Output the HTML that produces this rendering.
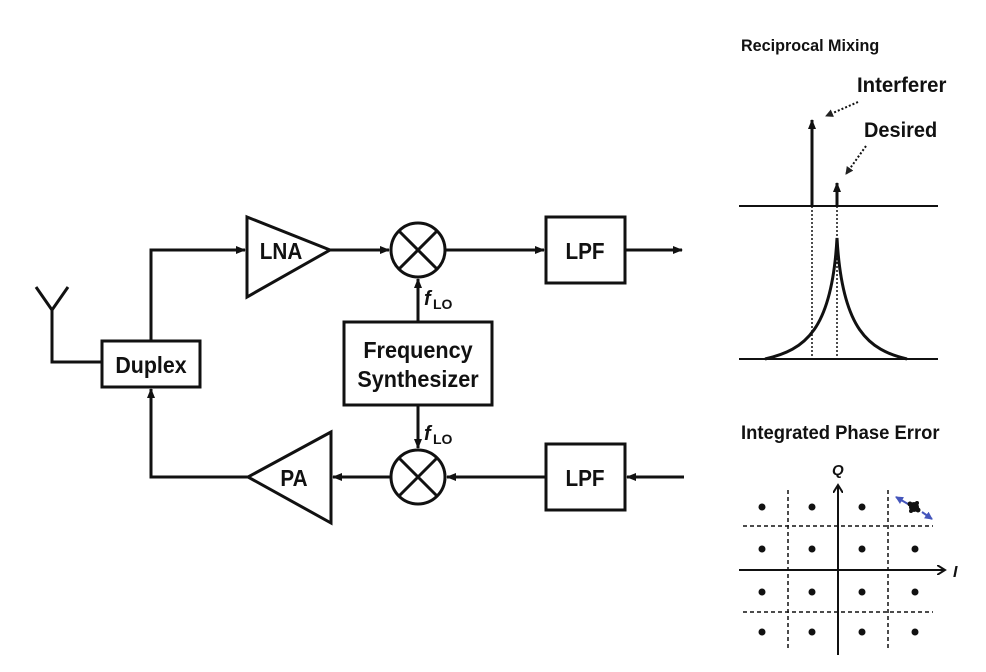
<!DOCTYPE html>
<html><head><style>body{margin:0;background:#fff}svg{display:block}text{font-family:"Liberation Sans",sans-serif;font-weight:bold;fill:#111}</style></head><body>
<svg width="986" height="672" viewBox="0 0 986 672" xmlns="http://www.w3.org/2000/svg">
<defs>
<marker id="a" markerWidth="10" markerHeight="10" refX="9" refY="5" orient="auto" markerUnits="userSpaceOnUse"><path d="M0,1 L10,5 L0,9 z" fill="#111"/></marker>
<marker id="d" markerWidth="8" markerHeight="8" refX="7" refY="4" orient="auto" markerUnits="userSpaceOnUse"><path d="M0,0 L8,4 L0,8 z" fill="#222"/></marker>
<marker id="o" markerWidth="10" markerHeight="10" refX="8" refY="5" orient="auto" markerUnits="userSpaceOnUse"><path d="M0,0 L8,5 L0,10" fill="none" stroke="#111" stroke-width="2"/></marker>
<marker id="b" markerWidth="8" markerHeight="8" refX="7" refY="4" orient="auto" markerUnits="userSpaceOnUse"><path d="M0,0 L8,4 L0,8 z" fill="#4455bb"/></marker>
</defs>
<g stroke="#111" stroke-width="3" fill="none">
<path d="M36,287 L52,310 L68,287 M52,310 L52,362 L102,362"/>
<rect x="102" y="341" width="98" height="46"/>
<path d="M151,341 L151,250 L245,250" marker-end="url(#a)"/>
<path d="M247,217 L330,250 L247,297 Z"/>
<path d="M330,250 L389,250" marker-end="url(#a)"/>
<circle cx="418" cy="250" r="27"/>
<path d="M399,231 L437,269 M437,231 L399,269"/>
<path d="M445,250 L544,250" marker-end="url(#a)"/>
<rect x="546" y="217" width="79" height="66"/>
<path d="M625,250 L682,250" marker-end="url(#a)"/>
<rect x="344" y="322" width="148" height="83"/>
<path d="M418,322 L418,279" marker-end="url(#a)"/>
<path d="M418,405 L418,448" marker-end="url(#a)"/>
<circle cx="418" cy="477" r="27"/>
<path d="M399,458 L437,496 M437,458 L399,496"/>
<rect x="546" y="444" width="79" height="66"/>
<path d="M684,477 L627,477" marker-end="url(#a)"/>
<path d="M546,477 L447,477" marker-end="url(#a)"/>
<path d="M391,477 L333,477" marker-end="url(#a)"/>
<path d="M331,432 L248,477 L331,523 Z"/>
<path d="M248,477 L151,477 L151,389" marker-end="url(#a)"/>
</g>
<g font-size="23" text-anchor="middle">
<text transform="translate(151,373) scale(0.93,1)">Duplex</text>
<text transform="translate(281,259) scale(0.9,1)">LNA</text>
<text transform="translate(294,486) scale(0.9,1)">PA</text>
<text transform="translate(585,259) scale(0.9,1)">LPF</text>
<text transform="translate(585,486) scale(0.9,1)">LPF</text>
<text transform="translate(418,358) scale(0.94,1)">Frequency</text>
<text transform="translate(418,387) scale(0.94,1)">Synthesizer</text>
</g>
<text x="424" y="305" font-size="20" font-style="italic">f</text><text x="433" y="309" font-size="14" font-weight="normal">LO</text>
<text x="424" y="440" font-size="20" font-style="italic">f</text><text x="433" y="444" font-size="14" font-weight="normal">LO</text>

<text transform="translate(741,51) scale(0.95,1)" font-size="17">Reciprocal Mixing</text>
<text transform="translate(857,92) scale(0.97,1)" font-size="21">Interferer</text>
<text transform="translate(864,137) scale(0.95,1)" font-size="21">Desired</text>
<g stroke="#111" fill="none">
<path d="M739,206 L938,206 M739,359 L938,359" stroke-width="2"/>
<path d="M812,206 L812,120" stroke-width="3" marker-end="url(#a)"/>
<path d="M837,206 L837,183" stroke-width="3" marker-end="url(#a)"/>
<path d="M812,206 L812,359 M837,206 L837,359" stroke-width="1.5" stroke-dasharray="2,2"/>
<path d="M858,102 L826,116" stroke-width="2" stroke-dasharray="2,2" marker-end="url(#d)"/>
<path d="M866,146 L846,174" stroke-width="2" stroke-dasharray="2,2" marker-end="url(#d)"/>
<path d="M765,359 C805,350 832,330 837,238 C842,330 869,350 907,359" stroke-width="3"/>
</g>

<text transform="translate(741,439) scale(0.97,1)" font-size="19">Integrated Phase Error</text>
<text x="832" y="475" font-size="15" font-style="italic">Q</text>
<text x="953" y="577" font-size="16" font-style="italic">I</text>
<g stroke="#111" fill="none">
<path d="M838,655 L838,485" stroke-width="2" marker-end="url(#o)"/>
<path d="M739,570 L945,570" stroke-width="2" marker-end="url(#o)"/>
<path d="M788,490 L788,650 M888,490 L888,650 M743,526 L933,526 M743,612 L933,612" stroke-width="1.5" stroke-dasharray="4,3"/>
<path d="M908,504 L896,497" stroke="#4455bb" stroke-width="2" marker-end="url(#b)"/>
<path d="M922,512 L932,519" stroke="#4455bb" stroke-width="2" marker-end="url(#b)"/>
</g>
<g fill="#111">
<circle cx="762" cy="507" r="3.5"/><circle cx="812" cy="507" r="3.5"/><circle cx="862" cy="507" r="3.5"/>
<circle cx="914" cy="507" r="5"/><circle cx="910" cy="504" r="2.5"/><circle cx="918" cy="510" r="2.5"/><circle cx="917" cy="503" r="2"/><circle cx="911" cy="511" r="2"/>
<circle cx="762" cy="549" r="3.5"/><circle cx="812" cy="549" r="3.5"/><circle cx="862" cy="549" r="3.5"/><circle cx="915" cy="549" r="3.5"/>
<circle cx="762" cy="592" r="3.5"/><circle cx="812" cy="592" r="3.5"/><circle cx="862" cy="592" r="3.5"/><circle cx="915" cy="592" r="3.5"/>
<circle cx="762" cy="632" r="3.5"/><circle cx="812" cy="632" r="3.5"/><circle cx="862" cy="632" r="3.5"/><circle cx="915" cy="632" r="3.5"/>
</g>
</svg>
</body></html>
